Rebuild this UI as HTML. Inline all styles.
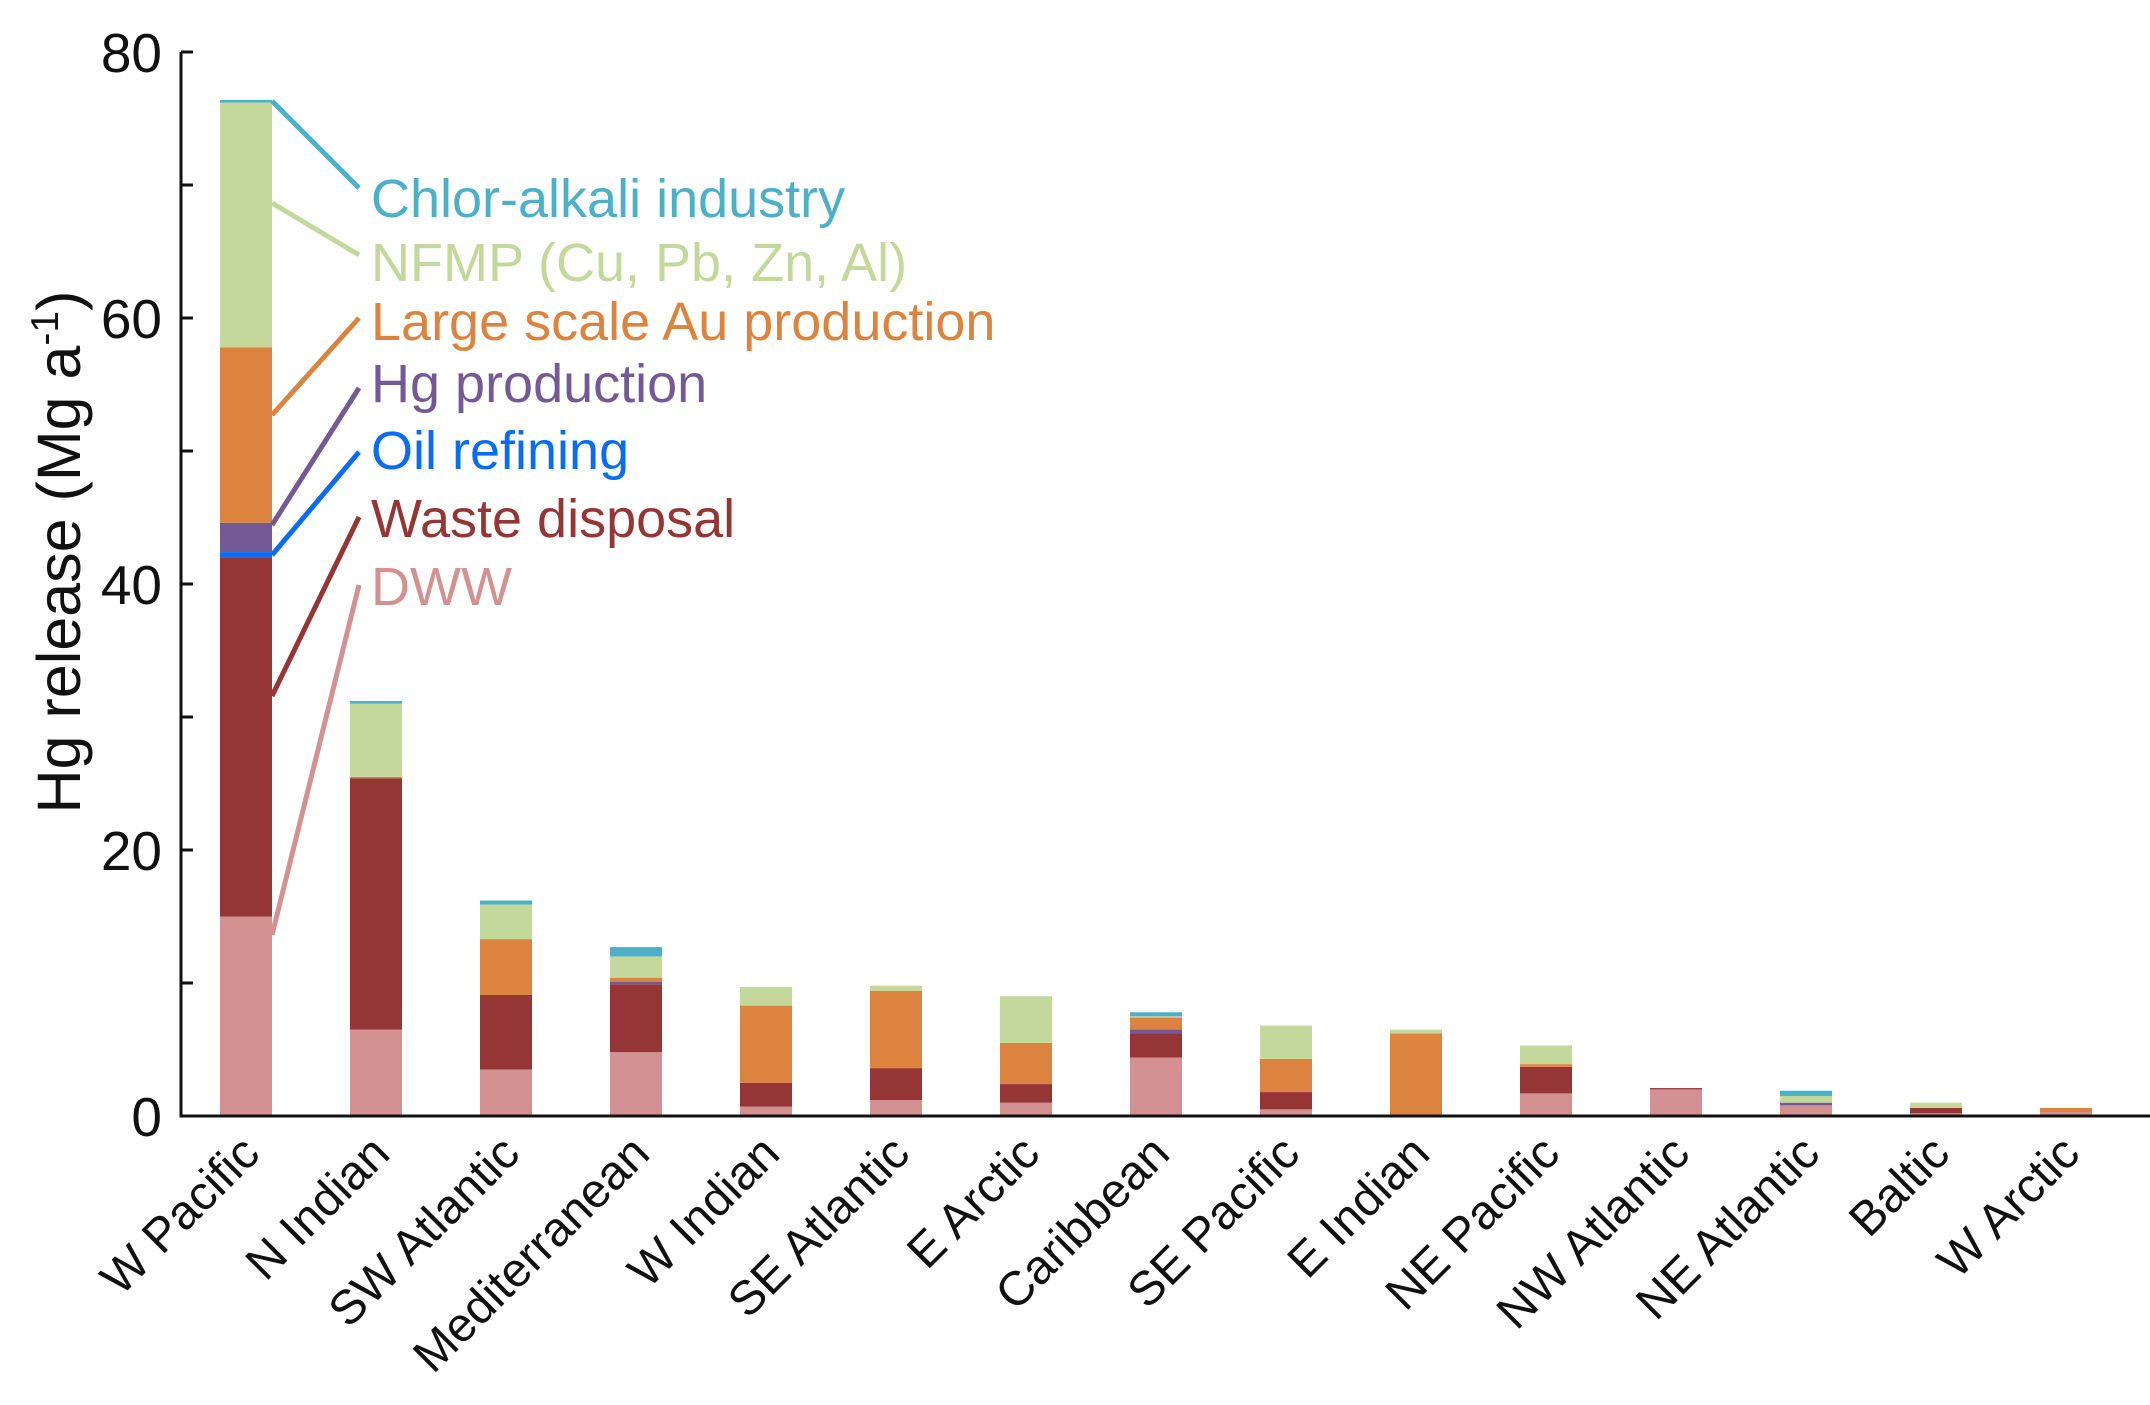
<!DOCTYPE html>
<html><head><meta charset="utf-8"><style>
html,body{margin:0;padding:0;background:#fff}
svg{display:block}
text{font-family:"Liberation Sans",Arial,sans-serif}
</style></head>
<body>
<svg id="chart" width="2150" height="1405" viewBox="0 0 2150 1405" xmlns="http://www.w3.org/2000/svg">
<g id="bars"></g>
<g id="axes"></g>
<g id="legend"></g>
</svg>
<script>
const categories = ["W Pacific","N Indian","SW Atlantic","Mediterranean","W Indian","SE Atlantic","E Arctic","Caribbean","SE Pacific","E Indian","NE Pacific","NW Atlantic","NE Atlantic","Baltic","W Arctic"];
const seriesNames = ["DWW","Waste disposal","Oil refining","Hg production","Large scale Au production","NFMP (Cu, Pb, Zn, Al)","Chlor-alkali industry"];
const dww    = [15.0,6.5,3.5,4.8,0.7,1.2,1.0,4.4,0.5,0.1,1.7,2.0,0.8,0.2,0.3];
const waste  = [27.0,18.9,5.6,5.1,1.8,2.4,1.4,1.8,1.3,0.0,2.0,0.1,0.0,0.4,0.0];
const oil    = [0.4,0.0,0.0,0.0,0.0,0.0,0.0,0.0,0.0,0.0,0.0,0.0,0.0,0.0,0.0];
const hgprod = [2.2,0.0,0.0,0.2,0.0,0.0,0.0,0.3,0.0,0.0,0.0,0.0,0.2,0.0,0.0];
const au     = [13.2,0.1,4.2,0.3,5.8,5.8,3.1,0.9,2.5,6.1,0.2,0.0,0.0,0.0,0.3];
const nfmp   = [18.4,5.5,2.6,1.6,1.4,0.4,3.5,0.1,2.5,0.3,1.4,0.0,0.5,0.4,0.0];
const chlor  = [0.2,0.2,0.3,0.7,0.0,0.0,0.0,0.3,0.0,0.0,0.0,0.0,0.4,0.0,0.0];
const yTicks = [0,10,20,30,40,50,60,70,80];
const yTickLabels = ["0","","20","","40","","60","","80"];

const colors = ["#d39191","#953535","#0a6cf5","#735a96","#dc843f","#c4d89c","#4bb0c8"];
const series = [dww,waste,oil,hgprod,au,nfmp,chlor];
const NS="http://www.w3.org/2000/svg";
const x0=181, y0=1116, yTop=52, yMax=80;
const yScale=v=>y0-(v/yMax)*(y0-yTop);
const xCenter=i=>246+i*130;
const barW=52;
function mk(tag,attrs,parent){const e=document.createElementNS(NS,tag);for(const k in attrs)e.setAttribute(k,attrs[k]);parent.appendChild(e);return e;}
const gb=document.getElementById('bars');
categories.forEach((c,i)=>{
  let cum=0;
  series.forEach((s,k)=>{
    const v=s[i]; if(v<=0)return;
    const r=mk('rect',{x:xCenter(i)-barW/2,y:yScale(cum+v),width:barW,height:yScale(cum)-yScale(cum+v),fill:colors[k]},gb);
    
    
    cum+=v;
  });
});
const ga=document.getElementById('axes');
const ax=mk('path',{d:`M${x0} ${yTop} V${y0} H2150`,stroke:"#111",'stroke-width':3,fill:"none"},ga);


yTicks.forEach((t,j)=>{
  const y=yScale(t);
  const tk=mk('line',{x1:x0,x2:x0+12,y1:y,y2:y,stroke:"#111",'stroke-width':3},ga);
  
  
  if(yTickLabels[j]){
    const tl=mk('text',{x:162,y:y+20,'text-anchor':'end','font-size':55,fill:'#111'},ga);
    tl.textContent=yTickLabels[j];
    
    
  }
});
categories.forEach((c,i)=>{
  const cx=xCenter(i)+16, cy=1156;
  const t=mk('text',{x:cx,y:cy,'text-anchor':'end','font-size':48,fill:'#111',transform:`rotate(-45 ${cx} ${cy})`},ga);
  t.textContent=c;
  
  
});
const yt=mk('text',{x:0,y:0,'text-anchor':'middle','font-size':61,fill:'#111',transform:'translate(80 552) rotate(-90)'},ga);
yt.innerHTML='Hg release (Mg a<tspan dy="-22" font-size="39">-1</tspan><tspan dy="22">)</tspan>';



const gl=document.getElementById('legend');
const legendOrder=[6,5,4,3,2,1,0];
const baselines=[217,281,340,402,469,537,605];
const lineStart=[101,203,415,525,555,696,935];
const lineEnd=[188,255,318,388,452,517,585];
legendOrder.forEach((k,j)=>{
  const l=mk('line',{x1:272,y1:lineStart[j],x2:359,y2:lineEnd[j],stroke:colors[k],'stroke-width':5},gl);
  
  
  const t=mk('text',{x:371,y:baselines[j],'font-size':54,fill:colors[k]},gl);
  t.textContent=seriesNames[k];
  
  
});
</script>
</body></html>
